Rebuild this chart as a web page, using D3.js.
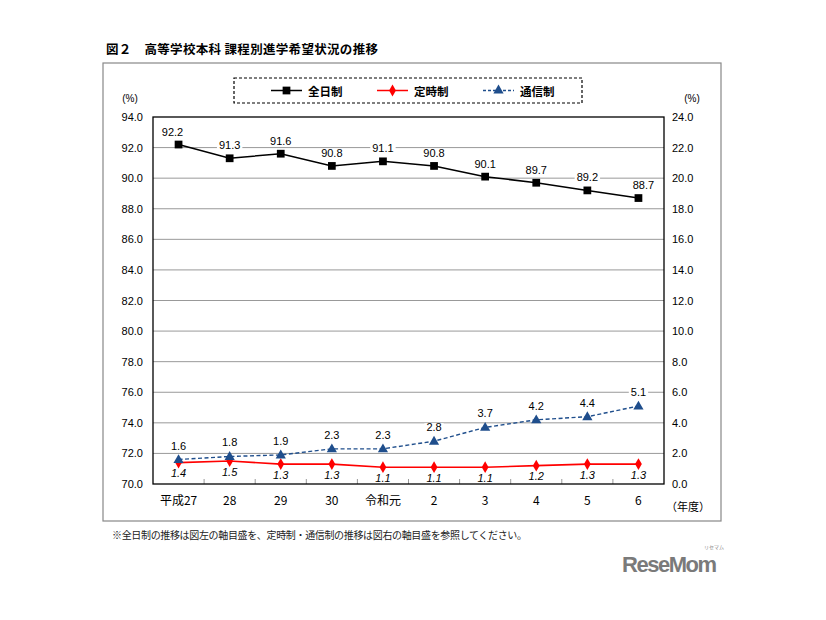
<!DOCTYPE html>
<html><head><meta charset="utf-8">
<script src="https://cdn.jsdelivr.net/npm/d3@7/dist/d3.min.js"></script>
<style>
body{margin:0;background:#fff;}
svg text{font-family:"Liberation Sans","Noto Sans CJK JP",Arial,sans-serif;}
.jp{font-family:"Noto Sans CJK JP","Liberation Sans",sans-serif;}
</style></head>
<body>
<svg id="c" width="826" height="620"></svg>
<script>
const categories = ["平成27","28","29","30","令和元","2","3","4","5","6"];
const zenjitsu = [92.2,91.3,91.6,90.8,91.1,90.8,90.1,89.7,89.2,88.7];
const teiji = [1.4,1.5,1.3,1.3,1.1,1.1,1.1,1.2,1.3,1.3];
const tsushin = [1.6,1.8,1.9,2.3,2.3,2.8,3.7,4.2,4.4,5.1];
const leftTicks = [70,72,74,76,78,80,82,84,86,88,90,92,94];
const rightTicks = [0,2,4,6,8,10,12,14,16,18,20,22,24];
const seriesNames = ["全日制","定時制","通信制"];

const svg = d3.select("#c");
const L=153, R=664, T=117, B=484;
const x = d3.scaleBand().domain(categories).range([L,R]);
const yL = d3.scaleLinear().domain([70,94]).range([B,T]);
const yR = d3.scaleLinear().domain([0,24]).range([B,T]);
const cx = d => x(d)+x.bandwidth()/2;

// title
svg.append("text").attr("class","jp").attr("x",106).attr("y",54)
  .attr("font-size",12.5).attr("font-weight","bold").attr("fill","#000")
  .attr("textLength",272)
  .text("図２　高等学校本科 課程別進学希望状況の推移");

// outer box
svg.append("rect").attr("x",103).attr("y",63).attr("width",618).attr("height",458)
  .attr("fill","none").attr("stroke","#888").attr("stroke-width",1.2);

// gridlines
const g = svg.append("g");
g.selectAll("line.grid").data(leftTicks.slice(1,-1)).join("line")
  .attr("x1",L).attr("x2",R).attr("y1",d=>yL(d)).attr("y2",d=>yL(d))
  .attr("stroke","#999").attr("stroke-width",1);

// x boundary ticks
g.selectAll("line.xt").data(categories.slice(1)).join("line")
  .attr("x1",d=>x(d)).attr("x2",d=>x(d)).attr("y1",B).attr("y2",B-5)
  .attr("stroke","#999");

// left axis
const axL = d3.axisLeft(yL).tickValues(leftTicks).tickFormat(d3.format(".1f")).tickSize(0).tickPadding(10);
const gl = svg.append("g").attr("transform",`translate(${L},0)`).call(axL);
gl.select(".domain").remove();
gl.selectAll("text").attr("font-size",11).attr("fill","#000");
const axR = d3.axisRight(yR).tickValues(rightTicks).tickFormat(d3.format(".1f")).tickSize(0).tickPadding(8);
const gr = svg.append("g").attr("transform",`translate(${R},0)`).call(axR);
gr.select(".domain").remove();
gr.selectAll("text").attr("font-size",11).attr("fill","#000");

// x labels
const axB = d3.axisBottom(x).tickSize(0).tickPadding(10);
const gb = svg.append("g").attr("transform",`translate(0,${B})`).call(axB);
gb.select(".domain").remove();
gb.selectAll("text").attr("font-size",12).attr("fill","#000").attr("class","jp").attr("dy","0.9em");

// units
svg.append("text").attr("x",130).attr("y",102).attr("text-anchor","middle").attr("font-size",10).text("(%)");
svg.append("text").attr("x",692).attr("y",102).attr("text-anchor","middle").attr("font-size",10).text("(%)");
svg.append("text").attr("class","jp").attr("x",666).attr("y",511).attr("font-size",11).text("（年度）");

// plot frame
svg.append("rect").attr("x",L).attr("y",T).attr("width",R-L).attr("height",B-T)
  .attr("fill","none").attr("stroke","#000").attr("stroke-width",1.3);

// lines
const lineL = d3.line().x((d,i)=>cx(categories[i])).y(d=>yL(d));
const lineR = d3.line().x((d,i)=>cx(categories[i])).y(d=>yR(d));
const blue="#1f4e8c", red="#ff0000";
svg.append("path").attr("d",lineR(tsushin)).attr("fill","none").attr("stroke",blue).attr("stroke-width",1.4).attr("stroke-dasharray","4,2.5");
svg.append("path").attr("d",lineR(teiji)).attr("fill","none").attr("stroke",red).attr("stroke-width",1.6);
svg.append("path").attr("d",lineL(zenjitsu)).attr("fill","none").attr("stroke","#000").attr("stroke-width",1.5);

const sq = d3.symbol().type(d3.symbolSquare).size(60);
const dia = d3.symbol().type(d3.symbolDiamond).size(40);
const tri = d3.symbol().type(d3.symbolTriangle).size(45);

svg.selectAll("path.mz").data(zenjitsu).join("path").attr("d",sq)
  .attr("transform",(d,i)=>`translate(${cx(categories[i])},${yL(d)})`).attr("fill","#000");
svg.selectAll("path.mt").data(teiji).join("path").attr("d",dia)
  .attr("transform",(d,i)=>`translate(${cx(categories[i])},${yR(d)})`).attr("fill",red);
svg.selectAll("path.ms").data(tsushin).join("path").attr("d",tri)
  .attr("transform",(d,i)=>`translate(${cx(categories[i])},${yR(d)+0.5})`).attr("fill",blue);

// labels with white bg
function label(xp,yp,txt,italic){
  const gg = svg.append("g");
  const r = gg.append("rect").attr("fill","#fff");
  const t = gg.append("text").attr("x",xp).attr("y",yp).attr("text-anchor","middle")
    .attr("dominant-baseline","central").attr("font-size",11).attr("fill","#000")
    .attr("font-style",italic?"italic":"normal").text(txt);
  const bb = t.node().getBBox();
  r.attr("x",bb.x-2).attr("y",bb.y+2).attr("width",bb.width+4).attr("height",bb.height-4);
}
zenjitsu.forEach((d,i)=>label(cx(categories[i]) + (i===0?-6:(i===9?5:0)), yL(d)-13, d.toFixed(1)));
tsushin.forEach((d,i)=>label(cx(categories[i]), yR(d)-14, d.toFixed(1)));
teiji.forEach((d,i)=>label(cx(categories[i]), yR(d)+10.5, d.toFixed(1), true));

// legend
svg.append("rect").attr("x",234).attr("y",78).attr("width",348).attr("height",25)
  .attr("fill","#fff").attr("stroke","#000").attr("stroke-width",1.2).attr("stroke-dasharray","3,2");
const leg = [
  {x:271, name:seriesNames[0], color:"#000", sym:sq, dash:null},
  {x:377, name:seriesNames[1], color:red, sym:dia, dash:null},
  {x:483, name:seriesNames[2], color:blue, sym:tri, dash:"3,2"}
];
leg.forEach(o=>{
  svg.append("line").attr("x1",o.x).attr("x2",o.x+31).attr("y1",90.5).attr("y2",90.5)
    .attr("stroke",o.color).attr("stroke-width",1.5).attr("stroke-dasharray",o.dash);
  svg.append("path").attr("d",o.sym).attr("transform",`translate(${o.x+15.5},90.5)`).attr("fill",o.color);
  svg.append("text").attr("class","jp").attr("x",o.x+37).attr("y",91).attr("dominant-baseline","central")
    .attr("font-size",11.5).attr("font-weight","bold").text(o.name);
});

// footnote
svg.append("text").attr("class","jp").attr("x",112).attr("y",539).attr("font-size",10)
  .attr("textLength",415).attr("fill","#222")
  .text("※全日制の推移は図左の軸目盛を、定時制・通信制の推移は図右の軸目盛を参照してください。");

// logo
svg.append("text").attr("x",622).attr("y",572).attr("font-size",22).attr("font-weight","bold")
  .attr("fill","#7a7a7a").attr("textLength",95).attr("font-family","Liberation Sans, Arial").text("ReseMom");
svg.append("text").attr("class","jp").attr("x",704).attr("y",549).attr("font-size",5).attr("fill","#888").text("リセマム");
</script>
</body></html>
